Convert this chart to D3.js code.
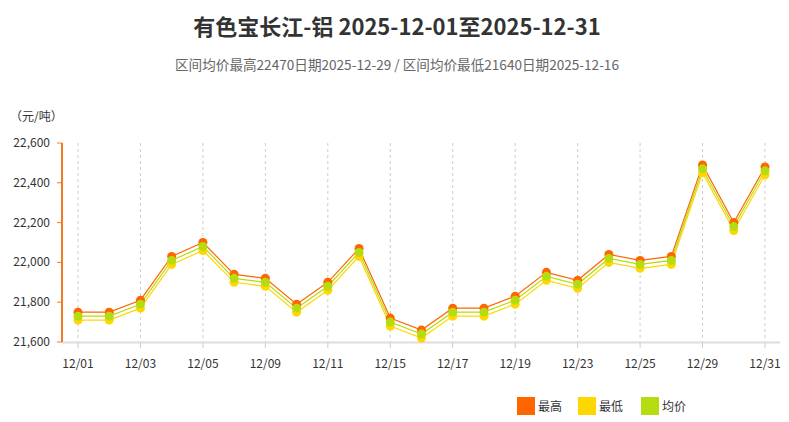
<!DOCTYPE html>
<html><head><meta charset="utf-8">
<script src="https://cdn.jsdelivr.net/npm/d3@7"></script>
<style>body{margin:0;background:#fff;font-family:"Noto Sans CJK SC","Noto Sans",sans-serif}</style>
</head><body><svg id="chart" width="789" height="422"></svg>
<script>
var dates = ['12/01','12/02','12/03','12/04','12/05','12/08','12/09','12/10','12/11','12/12','12/15','12/16','12/17','12/18','12/19','12/22','12/23','12/24','12/25','12/26','12/29','12/30','12/31'];
var highs = [21750,21750,21810,22030,22100,21940,21920,21790,21900,22070,21720,21660,21770,21770,21830,21950,21910,22040,22010,22030,22490,22200,22480];
var avgs  = [21730,21730,21790,22010,22080,21920,21900,21770,21880,22050,21700,21640,21750,21750,21810,21930,21890,22020,21990,22010,22470,22180,22460];
var lows  = [21710,21710,21770,21990,22060,21900,21880,21750,21860,22030,21680,21620,21730,21730,21790,21910,21870,22000,21970,21990,22450,22160,22440];
var yTicks = [21600,21800,22000,22200,22400,22600];

var svg = d3.select('#chart');
var x = d3.scalePoint().domain(dates).range([78, 765]);
var y = d3.scaleLinear().domain([21600, 22600]).range([342, 143]);

svg.append('text').attr('x', 397).attr('y', 35).attr('text-anchor', 'middle')
  .attr('font-size', 22).attr('font-weight', 'bold').attr('fill', '#333')
  .text('有色宝长江-铝 2025-12-01至2025-12-31');
svg.append('text').attr('x', 397).attr('y', 70).attr('text-anchor', 'middle')
  .attr('font-size', 13.6).attr('fill', '#666')
  .text('区间均价最高22470日期2025-12-29 / 区间均价最低21640日期2025-12-16');
svg.append('text').attr('x', 10).attr('y', 121).attr('font-size', 12).attr('fill', '#333').text('（元/吨）');

// vertical dashed grid at labelled dates
dates.forEach(function(d, i) {
  if (i % 2) return;
  svg.append('line').attr('x1', x(d)).attr('x2', x(d)).attr('y1', 143).attr('y2', 342)
    .attr('stroke', '#ccc').attr('stroke-dasharray', '3,3');
});

// x axis
svg.append('line').attr('x1', 62).attr('x2', 780).attr('y1', 342.5).attr('y2', 342.5).attr('stroke', '#ddd').attr('stroke-width', 2);
dates.forEach(function(d, i) {
  if (i % 2) return;
  svg.append('line').attr('x1', x(d)).attr('x2', x(d)).attr('y1', 343).attr('y2', 348).attr('stroke', '#ccc');
  svg.append('text').attr('x', x(d)).attr('y', 368).attr('text-anchor', 'middle')
    .attr('font-size', 12).attr('fill', '#333').text(d);
});

// y axis
svg.append('line').attr('x1', 62).attr('x2', 62).attr('y1', 143).attr('y2', 342).attr('stroke', '#f07a22').attr('stroke-width', 2);
yTicks.forEach(function(t) {
  svg.append('line').attr('x1', 57).attr('x2', 62).attr('y1', y(t)).attr('y2', y(t)).attr('stroke', '#f07a22');
  svg.append('text').attr('x', 50).attr('y', y(t) + 4).attr('text-anchor', 'end')
    .attr('font-size', 12).attr('fill', '#333').text(d3.format(',')(t));
});

var series = [
  {name: '最高', data: highs, color: '#ff6600'},
  {name: '最低', data: lows, color: '#ffd700'},
  {name: '均价', data: avgs, color: '#b5dc10'}
];
var line = d3.line().x(function(d, i) { return x(dates[i]); }).y(function(d) { return y(d); });
series.forEach(function(s) {
  svg.append('path').datum(s.data).attr('d', line).attr('fill', 'none').attr('stroke', s.color).attr('stroke-width', 1.2);
});
series.forEach(function(s) {
  svg.selectAll(null).data(s.data).enter().append('circle')
    .attr('cx', function(d, i) { return x(dates[i]); }).attr('cy', function(d) { return y(d); })
    .attr('r', 4.5).attr('fill', s.color);
});

// legend
var lx = [517, 578, 641];
series.forEach(function(s, i) {
  svg.append('rect').attr('x', lx[i]).attr('y', 397).attr('width', 18).attr('height', 18).attr('fill', s.color);
  svg.append('text').attr('x', lx[i] + 21).attr('y', 411).attr('font-size', 12).attr('fill', '#333').text(s.name);
});
</script></body></html>
